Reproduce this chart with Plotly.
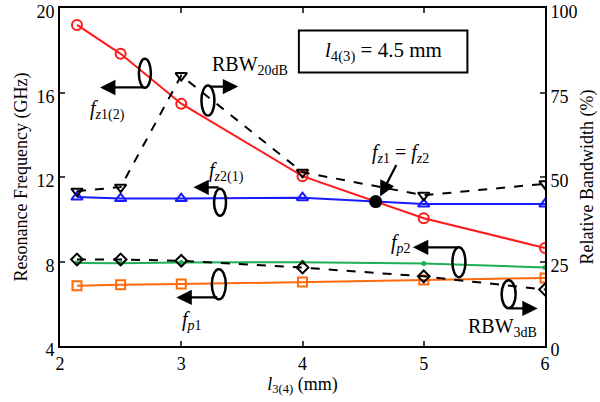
import plotly.graph_objects as go

# Slot length l3(4) in mm
l_mm = [2.14, 2.5, 3, 4, 5, 6]

# Resonance frequencies (GHz)
fz1_ghz = [19.2, 17.83, 15.47, 12.04, 10.05, 8.64]
fz2_ghz = [11.05, 10.98, 10.98, 11.02, 10.72, 10.72]
fp2_ghz = [7.93, 7.92, 7.95, 7.97, 7.90, 7.72]
fp1_ghz = [6.85, 6.90, 6.93, 7.03, 7.12, 7.22]

# Relative bandwidths (%)
rbw20_pct = [45.8, 47.0, 80.0, 51.4, 44.6, 48.0]
rbw3_pct = [25.6, 25.6, 25.2, 23.2, 20.6, 16.7]

FONT = "'Liberation Serif', 'Times New Roman', Times, serif"

# crossing point of fz1 and fz2 between the 4 mm and 5 mm samples
i = 3
d1 = fz1_ghz[i + 1] - fz1_ghz[i]
d2 = fz2_ghz[i + 1] - fz2_ghz[i]
t = (fz2_ghz[i] - fz1_ghz[i]) / (d1 - d2)
x_cross = l_mm[i] + t * (l_mm[i + 1] - l_mm[i])
y_cross = fz1_ghz[i] + t * d1

fig = go.Figure()

fig.add_trace(go.Scatter(x=l_mm, y=fz1_ghz, mode="lines+markers",
                         line=dict(color="#ff1a1a", width=2),
                         marker=dict(symbol="circle-open", size=10, color="#ff1a1a", line=dict(width=2))))
fig.add_trace(go.Scatter(x=l_mm, y=fz2_ghz, mode="lines+markers",
                         line=dict(color="#1a1aff", width=2),
                         marker=dict(symbol="triangle-up-open", size=10, color="#1a1aff", line=dict(width=2))))
fig.add_trace(go.Scatter(x=l_mm, y=fp2_ghz, mode="lines+markers",
                         line=dict(color="#1db054", width=2),
                         marker=dict(symbol="circle", size=5, color="#1db054")))
fig.add_trace(go.Scatter(x=l_mm, y=fp1_ghz, mode="lines+markers",
                         line=dict(color="#ff6a0d", width=2),
                         marker=dict(symbol="square-open", size=9, color="#ff6a0d", line=dict(width=2))))
fig.add_trace(go.Scatter(x=l_mm, y=rbw20_pct, mode="lines+markers", yaxis="y2",
                         line=dict(color="black", width=2, dash="dash"),
                         marker=dict(symbol="triangle-down-open", size=10, color="black", line=dict(width=2))))
fig.add_trace(go.Scatter(x=l_mm, y=rbw3_pct, mode="lines+markers", yaxis="y2",
                         line=dict(color="black", width=2, dash="dash"),
                         marker=dict(symbol="diamond-open", size=9, color="black", line=dict(width=2))))
fig.add_trace(go.Scatter(x=[x_cross], y=[y_cross], mode="markers",
                         marker=dict(symbol="circle", size=13, color="black")))

ann = []
shapes = []


def ellipse(x, y, w=12, h=29):
    shapes.append(dict(type="circle", xref="x", yref="y", xsizemode="pixel", ysizemode="pixel",
                       xanchor=x, yanchor=y, x0=-w / 2, x1=w / 2, y0=-h / 2, y1=h / 2,
                       line=dict(color="black", width=2.5)))


def arrow(x_tail, x_tip, y):
    ann.append(dict(x=x_tip, y=y, ax=x_tail, ay=y, xref="x", yref="y", axref="x", ayref="y",
                    text="", showarrow=True, arrowhead=2, arrowsize=1.4, arrowwidth=2.2,
                    arrowcolor="black"))


def label(x, y, text, xanchor="center"):
    ann.append(dict(x=x, y=y, xref="x", yref="y", text=text, showarrow=False,
                    xanchor=xanchor, font=dict(family=FONT, size=20, color="black")))


# fz1(2)
ellipse(2.70, 16.91)
arrow(2.70, 2.33, 16.24)
label(2.39, 15.15, "<i>f</i><sub><i>z</i>1(2)</sub>")

# RBW20dB
ellipse(3.22, 15.62, 13, 30)
arrow(3.22, 3.47, 16.28)
label(3.24, 17.28, "RBW<sub>20dB</sub>", "left")

# fz2(1)
ellipse(3.32, 10.81, 12, 27)
arrow(3.32, 3.10, 11.51)
label(3.37, 12.22, "<i>f</i><sub><i>z</i>2(1)</sub>")

# fp2
ellipse(5.29, 7.97, 13, 30)
arrow(5.29, 4.91, 8.67)
label(4.81, 8.86, "<i>f</i><sub><i>p</i>2</sub>")

# fp1
ellipse(3.31, 6.92, 14, 30)
arrow(3.31, 2.96, 6.30)
label(3.09, 5.22, "<i>f</i><sub><i>p</i>1</sub>")

# RBW3dB
ellipse(5.70, 6.45, 14, 28)
arrow(5.70, 5.94, 5.78)
label(5.65, 4.88, "RBW<sub>3dB</sub>")

# fz1 = fz2 crossing
label(4.81, 13.12, "<i>f</i><sub><i>z</i>1</sub> = <i>f</i><sub><i>z</i>2</sub>")
ann.append(dict(x=4.64, y=11.08, ax=4.78, ay=12.64, xref="x", yref="y", axref="x", ayref="y",
                text="", showarrow=True, arrowhead=2, arrowsize=1.4, arrowwidth=2.2, arrowcolor="black"))

# parameter box
shapes.append(dict(type="rect", xref="x", yref="y", x0=3.97, x1=5.36, y0=16.95, y1=18.93,
                   line=dict(color="black", width=2), fillcolor="white"))
ann.append(dict(x=4.665, y=17.94, xref="x", yref="y", text="<i>l</i><sub>4(3)</sub> = 4.5 mm",
                showarrow=False, font=dict(family=FONT, size=21, color="black")))

axis_font = dict(family=FONT, size=18, color="black")
title_font = dict(family=FONT, size=18, color="black")

fig.update_layout(
    width=600, height=402,
    margin=dict(l=60, r=55, t=8, b=56),
    paper_bgcolor="white", plot_bgcolor="white",
    showlegend=False,
    font=dict(family=FONT, color="black"),
    shapes=shapes, annotations=ann,
    xaxis=dict(range=[2, 6], tickvals=[2, 3, 4, 5, 6], ticks="inside", ticklen=5, tickwidth=2,
               showline=True, linewidth=2, linecolor="black", mirror="ticks", showgrid=False,
               zeroline=False, tickfont=axis_font, automargin=False, ticklabeloverflow="allow",
               title=dict(text="<i>l</i><sub>3(4)</sub> (mm)", font=title_font, standoff=2)),
    yaxis=dict(range=[4, 20], tickvals=[4, 8, 12, 16, 20], ticks="inside", ticklen=5, tickwidth=2,
               showline=True, linewidth=2, linecolor="black", showgrid=False, zeroline=False,
               tickfont=axis_font, automargin=False, ticklabeloverflow="allow", ticklabelshift=4,
               title=dict(text="Resonance Frequency (GHz)", font=title_font, standoff=4)),
    yaxis2=dict(range=[0, 100], tickvals=[0, 25, 50, 75, 100], overlaying="y", side="right",
                ticks="inside", ticklen=5, tickwidth=2, showline=True, linewidth=2, linecolor="black",
                showgrid=False, zeroline=False, tickfont=axis_font, automargin=False,
                ticklabeloverflow="allow", ticklabelshift=4,
                title=dict(text="Relative Bandwidth (%)", font=title_font, standoff=4)),
)

fig.write_html("out.html")
